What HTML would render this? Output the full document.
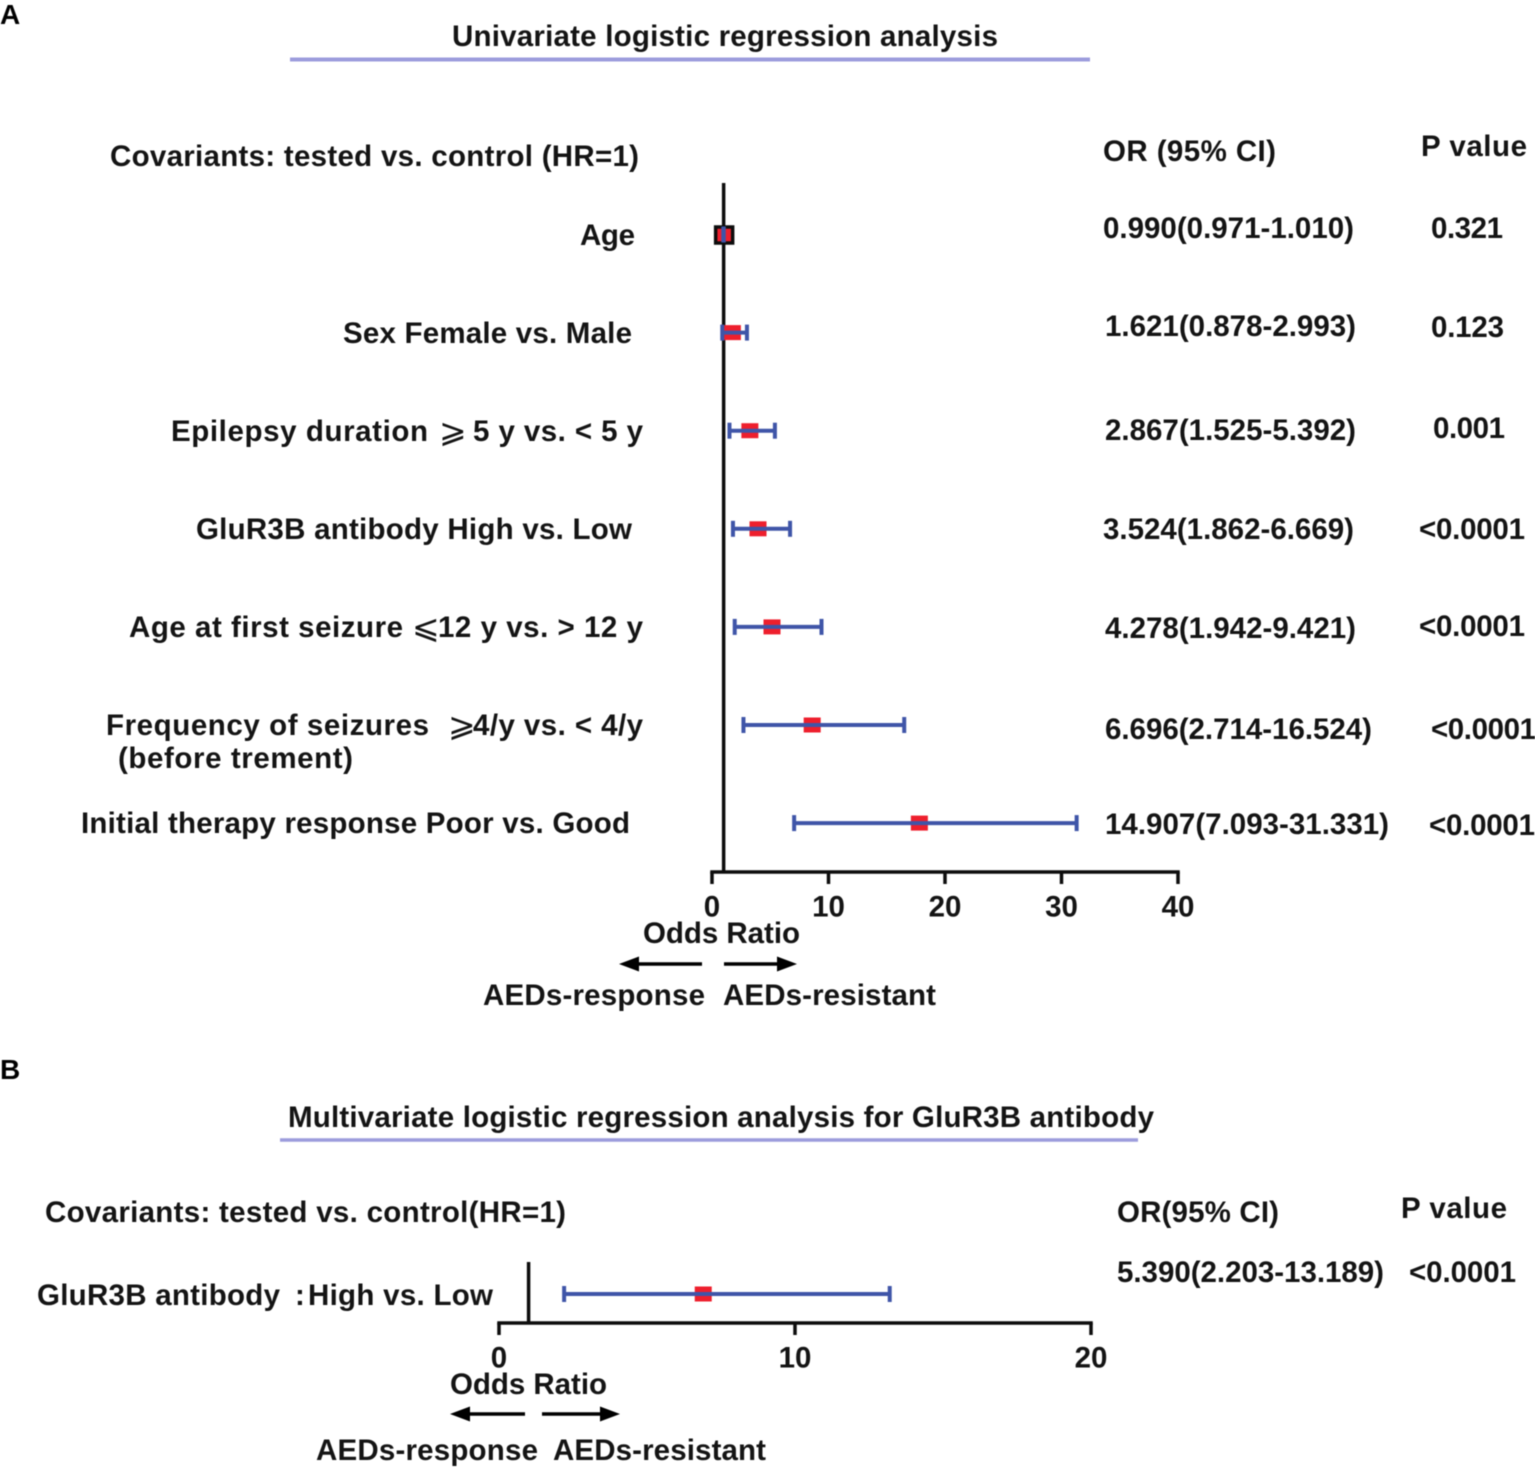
<!DOCTYPE html>
<html lang="en">
<head>
<meta charset="utf-8">
<title>Logistic regression forest plots</title>
<style>
html,body{margin:0;padding:0;background:#fff;}
svg{display:block;filter:blur(0.55px);}
text{font-family:"Liberation Sans",Arial,sans-serif;font-weight:bold;font-size:29.5px;fill:#141414;}
.sym{font-family:"DejaVu Sans",sans-serif;font-weight:normal;font-size:33px;}
.panel{font-size:28px;fill:#000;}
</style>
</head>
<body>
<svg id="chart" width="1535" height="1468" viewBox="0 0 1535 1468" xmlns="http://www.w3.org/2000/svg">

<!-- Panel A text -->
<g>
<text class="panel" x="0" y="24">A</text>
<text x="452" y="46" textLength="546">Univariate logistic regression analysis</text>
<line x1="290" y1="59.5" x2="1090" y2="59.5" stroke="#9c9cdc" stroke-width="4"/>
<text x="110" y="166" textLength="529">Covariants: tested vs. control (HR=1)</text>
<text x="1103" y="161" textLength="173">OR (95% CI)</text>
<text x="1421" y="156" textLength="106">P value</text>

<text x="580" y="245" textLength="55">Age</text>
<text x="343" y="343" textLength="289">Sex Female vs. Male</text>
<text x="171" y="441" textLength="257">Epilepsy duration</text>
<text class="sym" x="439" y="442">⩾</text>
<text x="473" y="441" textLength="170">5 y vs. &lt; 5 y</text>
<text x="196" y="539" textLength="436">GluR3B antibody High vs. Low</text>
<text x="129" y="637" textLength="274">Age at first seizure</text>
<text class="sym" x="412" y="638">⩽</text>
<text x="438" y="637" textLength="205">12 y vs. &gt; 12 y</text>
<text x="106" y="735" textLength="323">Frequency of seizures</text>
<text class="sym" x="448" y="736">⩾</text>
<text x="473" y="735" textLength="170">4/y vs. &lt; 4/y</text>
<text x="118" y="768" textLength="235">(before trement)</text>
<text x="81" y="833" textLength="549">Initial therapy response Poor vs. Good</text>

<text x="1103" y="238" textLength="251">0.990(0.971-1.010)</text>
<text x="1105" y="336" textLength="251">1.621(0.878-2.993)</text>
<text x="1105" y="440" textLength="251">2.867(1.525-5.392)</text>
<text x="1103" y="539" textLength="251">3.524(1.862-6.669)</text>
<text x="1105" y="638" textLength="251">4.278(1.942-9.421)</text>
<text x="1105" y="739" textLength="267">6.696(2.714-16.524)</text>
<text x="1105" y="834" textLength="284">14.907(7.093-31.331)</text>

<text x="1431" y="238" textLength="72">0.321</text>
<text x="1431" y="337" textLength="73">0.123</text>
<text x="1433" y="438" textLength="72">0.001</text>
<text x="1419" y="539" textLength="106">&lt;0.0001</text>
<text x="1419" y="636" textLength="106">&lt;0.0001</text>
<text x="1431" y="739" textLength="105">&lt;0.0001</text>
<text x="1429" y="835" textLength="106">&lt;0.0001</text>

<text x="643" y="943" textLength="157">Odds Ratio</text>
<text x="483" y="1005" textLength="222">AEDs-response</text>
<text x="723" y="1005" textLength="213">AEDs-resistant</text>
<g>
<line x1="702" y1="964" x2="632" y2="964" stroke="#000" stroke-width="3.5"/>
<polygon points="619,964 639,956.5 639,971.5" fill="#000"/>
</g>
<g>
<line x1="724" y1="964" x2="784" y2="964" stroke="#000" stroke-width="3.5"/>
<polygon points="797,964 777,956.5 777,971.5" fill="#000"/>
</g>
</g>

<!-- Panel B text -->
<g>
<text class="panel" x="0" y="1079">B</text>
<text x="288" y="1127" textLength="866">Multivariate logistic regression analysis for GluR3B antibody</text>
<line x1="280" y1="1140" x2="1138" y2="1140" stroke="#9c9cdc" stroke-width="3.5"/>
<text x="45" y="1222" textLength="521">Covariants: tested vs. control(HR=1)</text>
<text x="1117" y="1222" textLength="162">OR(95% CI)</text>
<text x="1401" y="1218" textLength="106">P value</text>
<text x="37" y="1305" textLength="243">GluR3B antibody</text>
<text x="295" y="1305">:</text>
<text x="308" y="1305" textLength="185">High vs. Low</text>
<text x="1117" y="1282" textLength="267">5.390(2.203-13.189)</text>
<text x="1409" y="1282" textLength="107">&lt;0.0001</text>
<text x="450" y="1394" textLength="157">Odds Ratio</text>
<text x="316" y="1460" textLength="222">AEDs-response</text>
<text x="553" y="1460" textLength="213">AEDs-resistant</text>
<g>
<line x1="525" y1="1414" x2="463" y2="1414" stroke="#000" stroke-width="3.5"/>
<polygon points="450,1414 470,1406.5 470,1421.5" fill="#000"/>
</g>
<g>
<line x1="542" y1="1414" x2="607" y2="1414" stroke="#000" stroke-width="3.5"/>
<polygon points="620,1414 600,1406.5 600,1421.5" fill="#000"/>
</g>
</g>

<g id="plotA"></g>
<g id="plotB"></g>
</svg>

<script>
const categoriesA = ["age", "sex", "epilepsy-duration", "glur3b", "age-first-seizure", "frequency", "initial-therapy"];
const pointA = [1.0, 1.75, 3.25, 3.95, 5.15, 8.6, 17.8];
const lowA = [0.97, 0.88, 1.5, 1.8, 1.95, 2.7, 7.05];
const highA = [1.01, 3.0, 5.4, 6.7, 9.4, 16.5, 31.3];
const ticksA = [0, 10, 20, 30, 40];
const referenceA = 1;

// Panel B data
const categoriesB = ["glur3b"];
const pointB = [6.9];
const lowB = [2.2];
const highB = [13.2];
const ticksB = [0, 10, 20];
const referenceB = 1;

const SVGNS = "http://www.w3.org/2000/svg";
const BLUE = "#3f55a8", RED = "#ee1f2d", BLACK = "#0d0d0d";

function make(parent, tag, attrs) {
  const el = document.createElementNS(SVGNS, tag);
  for (const k in attrs) el.setAttribute(k, attrs[k]);
  parent.appendChild(el);
  return el;
}
function linearScale(d0, d1, r0, r1) {
  return v => r0 + (v - d0) * (r1 - r0) / (d1 - d0);
}

function drawPanel(opts) {
  const g = opts.group;
  const x = linearScale(opts.ticks[0], opts.ticks[opts.ticks.length - 1], opts.x0, opts.x1);
  const y = i => opts.rowY0 + i * opts.rowStep;

  const refLine = make(g, "line", {x1: x(opts.reference), x2: x(opts.reference), y1: opts.refTop, y2: opts.axisY, stroke: BLACK, "stroke-width": 3.5});
  
  

  const axis = make(g, "line", {x1: x(opts.ticks[0]) - 1.75, x2: x(opts.ticks[opts.ticks.length - 1]) + 1.75, y1: opts.axisY, y2: opts.axisY, stroke: BLACK, "stroke-width": 3.5});
  
  

  opts.ticks.forEach(t => {
    const tick = make(g, "line", {x1: x(t), x2: x(t), y1: opts.axisY, y2: opts.axisY + 12, stroke: BLACK, "stroke-width": 3.5});
    
    
    const label = make(g, "text", {x: x(t), y: opts.axisY + 44.5, "text-anchor": "middle"});
    
    
    label.textContent = t;
  });

  opts.categories.forEach((c, i) => {
    const cy = y(i);
    const p = x(opts.point[i]);
    const row = make(g, "g", {});
    
    

    if (opts.boxed && opts.boxed.includes(i)) {
      const frame = make(row, "rect", {x: p - 8, y: cy - 7.5, width: 17, height: 16, fill: RED, stroke: BLACK, "stroke-width": 3.5});
      
      
    } else {
      const box = make(row, "rect", {x: p - 8.5, y: cy - 7.5, width: 17, height: 15, fill: RED});
      
      
    }

    const lo = x(opts.low[i]), hi = x(opts.high[i]);
    const whisker = make(row, "line", {x1: lo, x2: hi, y1: cy, y2: cy, stroke: BLUE, "stroke-width": 4});
    
    

    const capLow = make(row, "line", {x1: lo, x2: lo, y1: cy - 8, y2: cy + 8, stroke: BLUE, "stroke-width": 4});
    
    

    const capHigh = make(row, "line", {x1: hi, x2: hi, y1: cy - 8, y2: cy + 8, stroke: BLUE, "stroke-width": 4});
    
    
  });
}

drawPanel({
  group: document.getElementById("plotA"),
  categories: categoriesA, point: pointA, low: lowA, high: highA, ticks: ticksA, reference: referenceA,
  x0: 712, x1: 1178, axisY: 872, refTop: 183, rowY0: 234.5, rowStep: 98.1, boxed: [0]
});
drawPanel({
  group: document.getElementById("plotB"),
  categories: categoriesB, point: pointB, low: lowB, high: highB, ticks: ticksB, reference: referenceB,
  x0: 499, x1: 1091, axisY: 1323, refTop: 1262, rowY0: 1294, rowStep: 0
});
</script>
</body>
</html>
